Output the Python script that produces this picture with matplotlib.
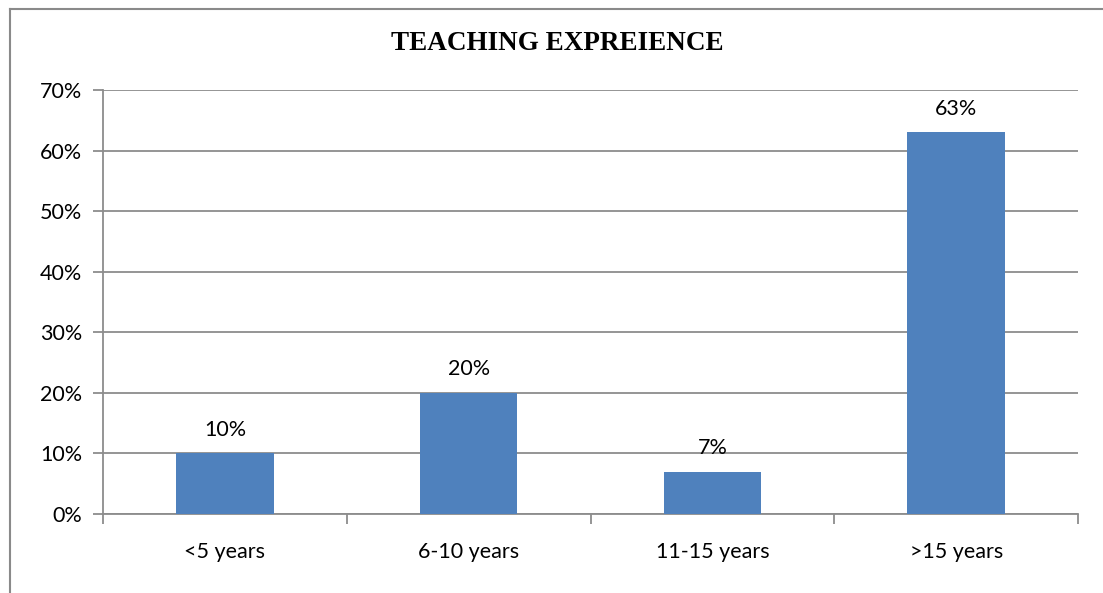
import matplotlib
matplotlib.use("Agg")
from matplotlib import pyplot as plt
from matplotlib.lines import Line2D
from matplotlib.ticker import MultipleLocator, PercentFormatter

CATEGORIES = ["<5 years", "6-10 years", "11-15 years", ">15 years"]
VALUES = [10, 20, 7, 63]
TITLE = "TEACHING EXPREIENCE"

BAR_COLOR = "#4F81BD"
GRID_COLOR = "#8C8C8C"
FONT = ["Lato", "DejaVu Sans"]
FS = 15.5

fig = plt.figure(figsize=(11.03, 5.93), dpi=100)
ax = fig.add_axes([103 / 1103, 1 - 514 / 593, 975 / 1103, 424 / 593])

x = range(len(CATEGORIES))
bars = ax.bar(x, VALUES, width=0.4, color=BAR_COLOR, zorder=3)

for b, v in zip(bars, VALUES):
    ax.annotate("{}%".format(v), (b.get_x() + b.get_width() / 2, v),
                xytext=(0, 10), textcoords="offset points",
                ha="center", va="bottom", fontsize=FS, family=FONT)

ax.set_xlim(-0.5, len(CATEGORIES) - 0.5)
ax.set_ylim(0, 70)
ax.yaxis.set_major_locator(MultipleLocator(10))
ax.yaxis.set_major_formatter(PercentFormatter(decimals=0))
ax.grid(axis="y", color=GRID_COLOR, linewidth=1.3, zorder=0)

ax.set_xticks(list(x))
ax.set_xticklabels(CATEGORIES, family=FONT, fontsize=FS)
ax.set_xticks([i - 0.5 for i in range(len(CATEGORIES) + 1)], minor=True)
ax.tick_params(axis="x", which="major", length=0, pad=20)
ax.tick_params(axis="x", which="minor", length=7, width=1.3, color=GRID_COLOR)
ax.tick_params(axis="y", length=7, width=1.3, color=GRID_COLOR, pad=8)
for label in ax.get_yticklabels():
    label.set_family(FONT)
    label.set_fontsize(FS)

for side in ["top", "right"]:
    ax.spines[side].set_visible(False)
for side in ["left", "bottom"]:
    ax.spines[side].set_color(GRID_COLOR)
    ax.spines[side].set_linewidth(1.3)

fig.text(557 / 1103, 1 - 43 / 593, TITLE, ha="center", va="center",
         family="Liberation Serif", fontweight="bold", fontsize=19.5)

# chart border (left and top edges visible in the reference)
fig.add_artist(Line2D([9.5 / 1103, 9.5 / 1103], [0, 1 - 8.5 / 593],
                      transform=fig.transFigure, color="#8A8A8A", linewidth=1.5))
fig.add_artist(Line2D([9.5 / 1103, 1], [1 - 8.5 / 593, 1 - 8.5 / 593],
                      transform=fig.transFigure, color="#8A8A8A", linewidth=1.5))

fig.savefig("out.png", dpi=100)
